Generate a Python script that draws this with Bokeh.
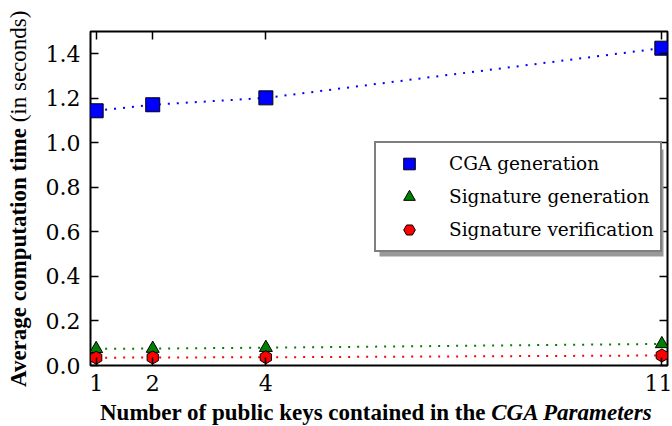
import numpy as np
from bokeh.plotting import figure
from bokeh.models import (FixedTicker, PrintfTickFormatter, LinearAxis,
                          Legend, LegendItem, BoxAnnotation, Range1d, Div)
from bokeh.layouts import column, row
from bokeh.embed import file_html
from bokeh.resources import INLINE

# ---- data ----
num_keys = [1, 2, 4, 11]
cga_generation = [1.144, 1.171, 1.202, 1.425]
signature_generation = [0.075, 0.076, 0.080, 0.097]
signature_verification = [0.035, 0.036, 0.037, 0.045]
series_labels = ["CGA generation", "Signature generation", "Signature verification"]
x_ticks = [1, 2, 4, 11]
y_ticks = [0.0, 0.2, 0.4, 0.6, 0.8, 1.0, 1.2, 1.4]
y_label_parts = ["Average computation time", "(in seconds)"]
x_label_parts = ["Number of public keys contained in the", "CGA Parameters"]

TICK_FONT = "DejaVu Serif"

# ---- main plot ----
p = figure(width=630, height=400, output_backend="svg", toolbar_location=None,
           x_range=Range1d(0.9, 11.1), y_range=Range1d(0, 1.5),
           min_border_left=46, min_border_right=5, min_border_top=31,
           min_border_bottom=35, margin=0)
p.xgrid.visible = False
p.ygrid.visible = False
p.outline_line_color = "black"
p.outline_line_width = 2
p.background_fill_color = "white"
p.border_fill_color = "white"

def style_axis(ax, ticks, show_labels):
    ax.axis_line_color = None
    ax.major_tick_in = 8
    ax.major_tick_out = 0
    ax.major_tick_line_width = 1.5
    ax.major_tick_line_color = "black"
    ax.minor_tick_line_color = None
    ax.major_label_text_font = TICK_FONT
    if show_labels:
        ax.major_label_text_font_size = "22px"
        ax.major_label_text_color = "black"
    else:
        ax.major_label_overrides = {t: "" for t in ticks}
        ax.major_label_standoff = 0

p.xaxis.ticker = FixedTicker(ticks=x_ticks)
p.yaxis.ticker = FixedTicker(ticks=y_ticks)
p.yaxis.formatter = PrintfTickFormatter(format="%.1f")
style_axis(p.xaxis[0], x_ticks, True)
style_axis(p.yaxis[0], y_ticks, True)
p.xaxis.major_label_standoff = 9
p.yaxis.major_label_standoff = 10

top_ax = LinearAxis(ticker=FixedTicker(ticks=x_ticks))
style_axis(top_ax, x_ticks, False)
p.add_layout(top_ax, "above")
right_ax = LinearAxis(ticker=FixedTicker(ticks=y_ticks))
style_axis(right_ax, y_ticks, False)
p.add_layout(right_ax, "right")

# ---- series ----
p.line(num_keys, cga_generation, line_color="#0000ff", line_width=2, line_dash="2 7")
p.line(num_keys, signature_generation, line_color="#008000", line_width=2, line_dash="2 7")
p.line(num_keys, signature_verification, line_color="#ff0000", line_width=2, line_dash="2 7")

r1 = p.scatter(num_keys, cga_generation, marker="square", size=14,
               fill_color="#0000ff", line_color="black", line_width=1)
r2 = p.scatter(num_keys, signature_generation, marker="triangle", size=13,
               fill_color="#008000", line_color="black", line_width=1)
r3 = p.scatter(num_keys, signature_verification, marker="hex", size=13, angle=np.pi / 2,
               fill_color="#ff0000", line_color="black", line_width=1)

# ---- legend with shadow ----
shadow = BoxAnnotation(left=289, right=573, bottom=109, top=216,
                       left_units="screen", right_units="screen",
                       bottom_units="screen", top_units="screen",
                       fill_color="#999999", fill_alpha=1.0, line_color=None)
p.add_layout(shadow)

legend = Legend(items=[LegendItem(label=series_labels[0], renderers=[r1]),
                       LegendItem(label=series_labels[1], renderers=[r2]),
                       LegendItem(label=series_labels[2], renderers=[r3])],
                location=(284, 113))
legend.label_text_font = TICK_FONT
legend.label_text_font_size = "18.5px"
legend.label_text_color = "black"
legend.border_line_color = "black"
legend.border_line_width = 2
legend.background_fill_color = "white"
legend.background_fill_alpha = 1.0
legend.padding = 6
legend.spacing = 4
legend.glyph_width = 54
legend.glyph_height = 29
legend.label_height = 29
legend.label_standoff = 13
legend.margin = 0
p.add_layout(legend, "center")

# ---- axis titles with mixed styles (HTML text) ----
CSS_FONT = "font-family:'Liberation Serif','Times New Roman',serif;font-size:23px;line-height:23px;color:black;white-space:nowrap;"
ydiv = Div(width=42, height=400, margin=0, text=(
    '<div style="position:relative;width:42px;height:400px;">'
    '<div style="position:absolute;left:7px;top:387px;transform:rotate(-90deg);'
    'transform-origin:0 0;' + CSS_FONT + '">'
    '<b>' + y_label_parts[0] + '</b> ' + y_label_parts[1] + '</div></div>'))
xdiv = Div(width=672, height=26, margin=0, text=(
    '<div style="position:relative;width:672px;height:26px;">'
    '<div style="position:absolute;left:100px;top:1px;font-weight:bold;' + CSS_FONT + '">'
    + x_label_parts[0] + ' <i>' + x_label_parts[1] + '</i></div></div>'))

layout = column(row(ydiv, p, spacing=0, margin=0), xdiv, spacing=0, margin=0)
open("out.html", "w").write(file_html(layout, INLINE))
